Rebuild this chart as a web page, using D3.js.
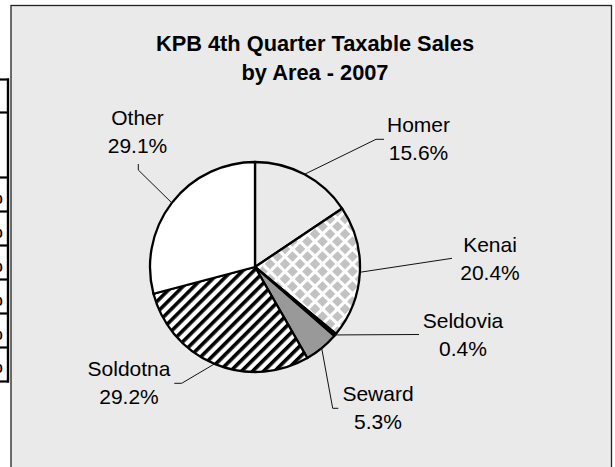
<!DOCTYPE html>
<html>
<head>
<meta charset="utf-8">
<script src="https://cdn.jsdelivr.net/npm/d3@7"></script>
<style>
  html, body { margin: 0; padding: 0; background: #ffffff; }
  svg { display: block; }
  text { font-family: "Liberation Sans", Arial, sans-serif; }
</style>
</head>
<body>
<svg id="chart" width="615" height="467"></svg>
<script>
// ---- data ----
const titleLines = ["KPB 4th Quarter Taxable Sales", "by Area - 2007"];
const areas = ["Homer", "Kenai", "Seldovia", "Seward", "Soldotna", "Other"];
const shares = [15.6, 20.4, 0.4, 5.3, 29.2, 29.1];
const shareLabels = ["15.6%", "20.4%", "0.4%", "5.3%", "29.2%", "29.1%"];

// ---- layout (not data) ----
const W = 615, H = 467;
const cx = 255, cy = 267, R = 105;
const bg = "#eaeaea";
const labelLayout = [
  { x: 418.5, y: 131.7, path: [[376, 139.3], [384, 139.3]] },
  { x: 490,   y: 251.7, path: [[452, 258.3]] },
  { x: 463,   y: 327.7, path: [[419, 334.5]] },
  { x: 378,   y: 400.7, path: [[332.7, 408.3], [338.3, 408.3]] },
  { x: 129,   y: 376,   path: [[181.7, 383.3], [174.3, 383.3]] },
  { x: 137.5, y: 125,   path: [[138.3, 170], [138.3, 164]] }
];

const svg = d3.select("#chart");
const defs = svg.append("defs");

// checker diamonds (Kenai)
const P = 15;
const chk = defs.append("pattern").attr("id", "checker")
  .attr("patternUnits", "userSpaceOnUse").attr("width", P).attr("height", P)
  .attr("x", cx).attr("y", cy);
chk.append("rect").attr("width", P).attr("height", P).attr("fill", "#ffffff");
const dmd = (x, y, h) => `M${x},${y - h}L${x + h},${y}L${x},${y + h}L${x - h},${y}Z`;
[[P / 2, P / 2], [0, 0], [P, 0], [0, P], [P, P]].forEach(([x, y]) =>
  chk.append("path").attr("d", dmd(x, y, 5.3)).attr("fill", "#c2c2c2"));

// diagonal stripes (Soldotna)
const str = defs.append("pattern").attr("id", "stripes")
  .attr("patternUnits", "userSpaceOnUse").attr("width", 7.8).attr("height", 7.8)
  .attr("patternTransform", "rotate(45)");
str.append("rect").attr("width", 7.8).attr("height", 7.8).attr("fill", "#ffffff");
str.append("rect").attr("width", 3.6).attr("height", 7.8).attr("fill", "#000000");

const fills = [bg, "url(#checker)", "#000000", "#999999", "url(#stripes)", "#ffffff"];

// ---- left table fragment (cropped neighbour) ----
const tableRows = [79.5, 112.5, 177.5, 211.5, 245.5, 279.5, 313.5, 347.5, 381.5];
const tbl = svg.append("g");
tbl.append("line").attr("x1", 8).attr("x2", 8).attr("y1", 78.5).attr("y2", 382.5)
  .attr("stroke", "#000").attr("stroke-width", 2.4);
tableRows.forEach(y => tbl.append("line").attr("x1", 0).attr("x2", 9)
  .attr("y1", y).attr("y2", y).attr("stroke", "#000").attr("stroke-width", 2.2));
[204, 238, 272, 306, 340, 373].forEach(y => tbl.append("text")
  .attr("x", 2.6).attr("y", y).attr("text-anchor", "end")
  .attr("font-size", 13).attr("font-weight", "bold").text("0"));

// ---- chart panel ----
svg.append("rect").attr("x", 11).attr("y", 5.5).attr("width", 600.5).attr("height", 470)
  .attr("fill", bg).attr("stroke", "#222").attr("stroke-width", 1.3);

// title
svg.append("g").selectAll("text").data(titleLines).join("text")
  .attr("x", 315).attr("y", (d, i) => 51 + i * 28.6)
  .attr("text-anchor", "middle").attr("font-size", 21.8).attr("font-weight", "bold")
  .attr("fill", "#000").text(d => d);

// pie
const pie = d3.pie().sort(null).value(d => d).startAngle(0).endAngle(2 * Math.PI);
const arcs = pie(shares);
const arc = d3.arc().innerRadius(0).outerRadius(R);
const g = svg.append("g").attr("transform", `translate(${cx},${cy})`);
g.selectAll("path").data(arcs).join("path")
  .attr("d", arc)
  .attr("fill", (d, i) => fills[i])
  .attr("stroke", "#000").attr("stroke-width", 2.3).attr("stroke-linejoin", "round");

// leader lines
const line = d3.line();
arcs.forEach((a, i) => {
  const mid = (a.startAngle + a.endAngle) / 2;
  const p0 = [cx + R * Math.sin(mid), cy - R * Math.cos(mid)];
  svg.append("path").attr("d", line([p0, ...labelLayout[i].path]))
    .attr("fill", "none").attr("stroke", "#111").attr("stroke-width", 1);
});

// labels
areas.forEach((name, i) => {
  const L = labelLayout[i];
  const t = svg.append("text").attr("text-anchor", "middle").attr("font-size", 21).attr("fill", "#000");
  t.append("tspan").attr("x", L.x).attr("y", L.y).text(name);
  t.append("tspan").attr("x", L.x).attr("y", L.y + 28).text(shareLabels[i]);
});
</script>
</body>
</html>
